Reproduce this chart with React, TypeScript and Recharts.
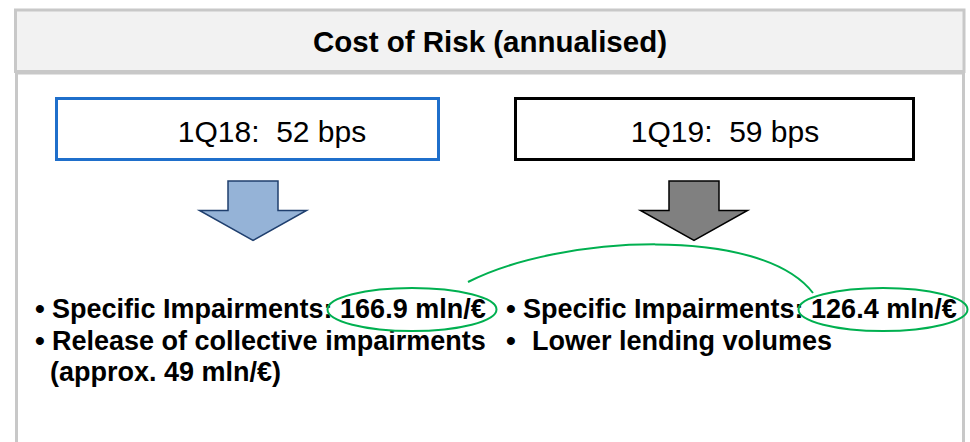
import { BarChart, Bar, XAxis, YAxis, Customized } from 'recharts';

const periods = ['1Q18', '1Q19'];
const costOfRiskBps = [52, 59];
const specificImpairments = [166.9, 126.4];
const otherDrivers = [
  ['Release of collective impairments', '(approx. 49 mln/€)'],
  ['Lower lending volumes'],
];
const title = 'Cost of Risk (annualised)';

const rows = periods.map((p, i) => ({
  period: p,
  bps: costOfRiskBps[i],
  impairments: specificImpairments[i],
  drivers: otherDrivers[i],
  panel: 1,
}));

const FONT = '"Liberation Sans", Arial, sans-serif';
const GREEN = '#00b050';

// per-column look, offsets are relative to the band centre
const columns = [
  { boxL: -192, boxR: 193, boxStroke: '#1f6fcb', labelDx: 25, arrowDx: 6, arrowFill: '#95b3d7', arrowStroke: '#1f3f6e', textDx: -195, driverDx: 0 },
  { boxL: -199, boxR: 202, boxStroke: '#000000', labelDx: 12, arrowDx: -19, arrowFill: '#808080', arrowStroke: '#000000', textDx: -190, driverDx: 9 },
];

const Frame = () => (
  <g>
    <rect x={15.5} y={10} width={948.5} height={61.5} fill="#f2f2f2" stroke="#c8c8c8" strokeWidth={3} />
    <rect x={16.5} y={73} width={947} height={400} fill="none" stroke="#c8c8c8" strokeWidth={3} />
    <text x={490} y={52} textAnchor="middle" fontFamily={FONT} fontWeight="bold" fontSize={29.5} fill="#000">
      {title}
    </text>
  </g>
);

const Panel = (props: any) => {
  const { x, width, index, payload } = props;
  const cx = x + width / 2;
  const c = columns[index];
  const tx = cx + c.textDx;
  const ax = cx + c.arrowDx;
  const ex = tx + 360;
  const arrow = [
    [ax - 25, 181], [ax + 25, 181], [ax + 25, 210.5], [ax + 53.5, 210.5],
    [ax, 240.5], [ax - 53.5, 210.5], [ax - 25, 210.5],
  ].map((pt) => pt.join(',')).join(' ');
  let arc = null;
  if (index > 0) {
    const prev = cx - width + columns[index - 1].textDx + 360;
    const x0 = prev + 56;
    const x1 = ex - 70;
    arc = <path d={`M${x0},282 C${x0 + 92},235 ${x1 - 52},225 ${x1},293`} fill="none" stroke={GREEN} strokeWidth={2} />;
  }
  return (
    <g>
      <rect x={cx + c.boxL + 1.5} y={98.5} width={c.boxR - c.boxL - 3} height={61} fill="#fff" stroke={c.boxStroke} strokeWidth={3} />
      <text x={cx + c.labelDx} y={142} textAnchor="middle" fontFamily={FONT} fontSize={30} fill="#000" style={{ whiteSpace: 'pre' }}>
        {`${payload.period}:  ${payload.bps} bps`}
      </text>
      <polygon points={arrow} fill={c.arrowFill} stroke={c.arrowStroke} strokeWidth={1.5} />
      <g fontFamily={FONT} fontWeight="bold" fontSize={27} fill="#000">
        <text x={tx - 12} y={318} textAnchor="middle" fontSize={28}>•</text>
        <text x={tx} y={318}>{`Specific Impairments: ${payload.impairments.toFixed(1)} mln/€`}</text>
        <text x={tx - 12} y={350} textAnchor="middle" fontSize={28}>•</text>
        {payload.drivers.map((d: string, k: number) => (
          <text key={k} x={tx + c.driverDx - (k > 0 ? 2 : 0)} y={350 + k * 31}>{d}</text>
        ))}
      </g>
      <ellipse cx={ex} cy={309.5} rx={84.5} ry={21.5} fill="none" stroke={GREEN} strokeWidth={2} />
      {arc}
    </g>
  );
};

export default function App() {
  return (
    <div style={{ position: 'absolute', left: 0, top: 0, background: '#fff' }}>
      <BarChart
        width={970}
        height={442}
        data={rows}
        margin={{ top: 0, right: 24, bottom: 0, left: 14 }}
        barCategoryGap={0}
        barGap={0}
      >
        <Customized component={Frame} />
        <XAxis dataKey="period" type="category" hide height={0} />
        <YAxis type="number" domain={[0, 1]} hide width={0} />
        <Bar dataKey="panel" shape={Panel} isAnimationActive={false} />
      </BarChart>
    </div>
  );
}
